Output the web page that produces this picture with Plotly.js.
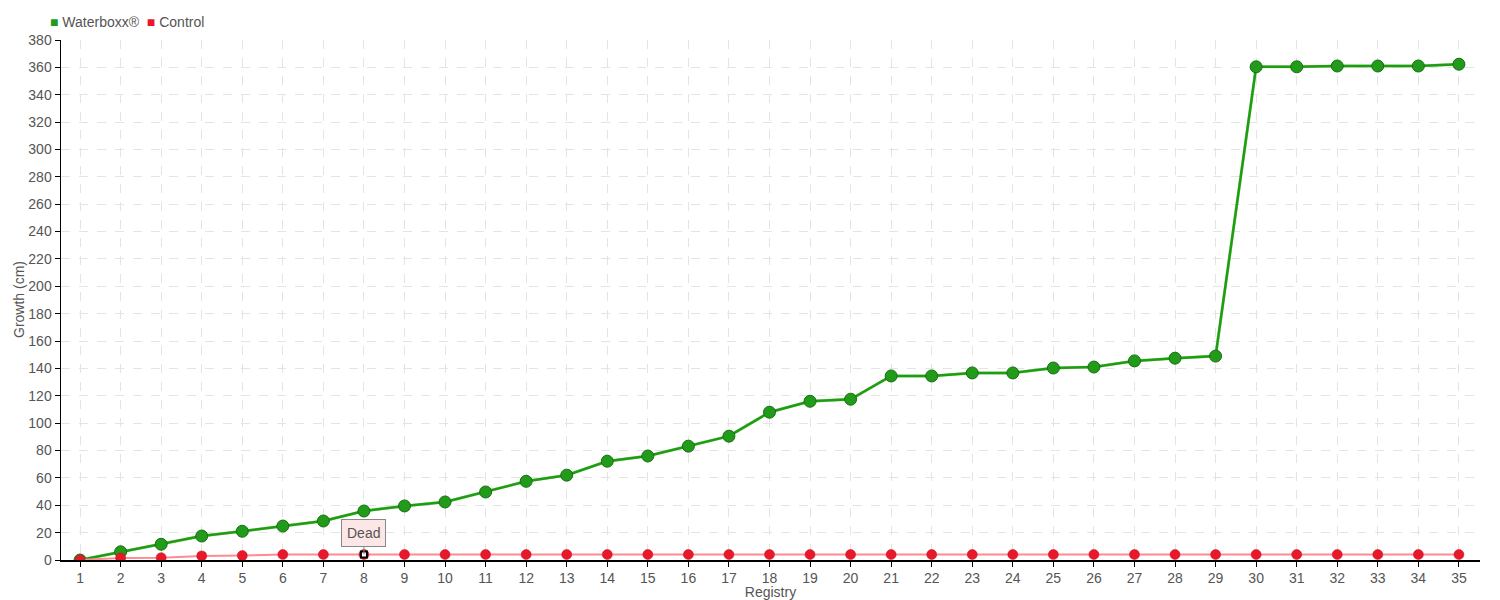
<!DOCTYPE html>
<html>
<head>
<meta charset="utf-8">
<script src="https://cdn.plot.ly/plotly-3.0.1.min.js"></script>
<style>html,body{margin:0;padding:0;background:#fff;}#chart{width:1500px;height:600px;}</style>
</head>
<body>
<div id="chart"></div>
<script>
var registry = [1,2,3,4,5,6,7,8,9,10,11,12,13,14,15,16,17,18,19,20,21,22,23,24,25,26,27,28,29,30,31,32,33,34,35];
var waterboxx = [0,6,11.5,17.5,21,24.8,28.5,35.8,39.5,42.4,49.7,57.5,62,72.2,76,83.2,90.5,108,116,117.5,134.5,134.5,136.7,136.7,140.3,141,145.5,147.5,149,360.4,360.4,361,361,361,362.3];
var control = [0,1.5,1.7,3,3.2,4,4,4,4,4,4,4,4,4,4,4,4,4,4,4,4,4,4,4,4,4,4,4,4,4,4,4,4,4,4];
var yTicks = [0,20,40,60,80,100,120,140,160,180,200,220,240,260,280,300,320,340,360,380];
var seriesNames = ['Waterboxx®', 'Control'];
var seriesColors = ['#229a1a', '#e8182a'];
var deadIndex = 7;

var fontFam = '"Liberation Sans Narrow", "Liberation Sans", Arial, sans-serif';

var traces = [
  {x: registry, y: waterboxx, mode: 'lines', line: {color: '#a6e096', width: 3}, showlegend: false, hoverinfo: 'skip'},
  {x: registry, y: waterboxx, mode: 'lines+markers', line: {color: '#1e9c12', width: 2.5},
   marker: {color: seriesColors[0], size: 12, line: {color: '#157010', width: 1}}, showlegend: false, name: seriesNames[0]},
  {x: registry, y: control, mode: 'lines+markers', line: {color: '#ff8a92', width: 2},
   marker: {color: seriesColors[1], size: 10, line: {color: '#c01020', width: 0.5}}, showlegend: false, name: seriesNames[1]},
  {x: [registry[deadIndex]], y: [control[deadIndex]], mode: 'markers', marker: {color: '#ffffff', symbol: 'square', size: 6, line: {color: '#000000', width: 2}}, showlegend: false, hoverinfo: 'skip'}
];

var legendText = '<span style="color:' + seriesColors[0] + '">■</span> ' + seriesNames[0] +
  '  <span style="color:' + seriesColors[1] + '">■</span> ' + seriesNames[1];

var layout = {
  width: 1500, height: 600,
  margin: {l: 61, r: 20, t: 40, b: 40},
  paper_bgcolor: '#ffffff', plot_bgcolor: '#ffffff',
  font: {family: fontFam, size: 14, color: '#555555'},
  showlegend: false,
  xaxis: {
    range: [0.53, 35.52], tickvals: registry, ticktext: registry.map(String),
    showline: true, linecolor: '#000000', linewidth: 1.5,
    ticks: 'outside', ticklen: 5, tickcolor: '#000000',
    showgrid: true, gridcolor: '#e4e4e4', griddash: 'dash', zeroline: false,
    title: {text: 'Registry', font: {family: fontFam, size: 14, color: '#555555'}, standoff: 0},
    tickfont: {family: fontFam, size: 14, color: '#555555'}
  },
  yaxis: {
    range: [0, 380], tickvals: yTicks,
    showline: true, linecolor: '#000000', linewidth: 1.5,
    ticks: 'outside', ticklen: 5, tickcolor: '#000000',
    showgrid: true, gridcolor: '#e4e4e4', griddash: 'dash', zeroline: false,
    tickfont: {family: fontFam, size: 14, color: '#555555'}
  },
  annotations: [{
    x: registry[deadIndex], y: control[deadIndex], xref: 'x', yref: 'y',
    text: 'Dead', showarrow: true, arrowhead: 0, arrowwidth: 1, arrowcolor: '#888888',
    ax: 0, ay: -22, bgcolor: '#fde6e6', bordercolor: '#888888', borderwidth: 1, borderpad: 5,
    font: {family: fontFam, size: 14, color: '#555555'}
  }, {
    xref: 'paper', yref: 'paper', x: -0.009, y: 1.0, yshift: 18, xanchor: 'left', yanchor: 'middle',
    showarrow: false, text: legendText, font: {family: fontFam, size: 14, color: '#555555'}
  }, {
    xref: 'paper', yref: 'paper', x: 0, y: 0.5, xshift: -42, xanchor: 'center', yanchor: 'middle',
    textangle: -90, showarrow: false, text: 'Growth (cm)', font: {family: fontFam, size: 14, color: '#555555'}
  }]
};

Plotly.newPlot('chart', traces, layout, {displayModeBar: false, staticPlot: true});
</script>
</body>
</html>
